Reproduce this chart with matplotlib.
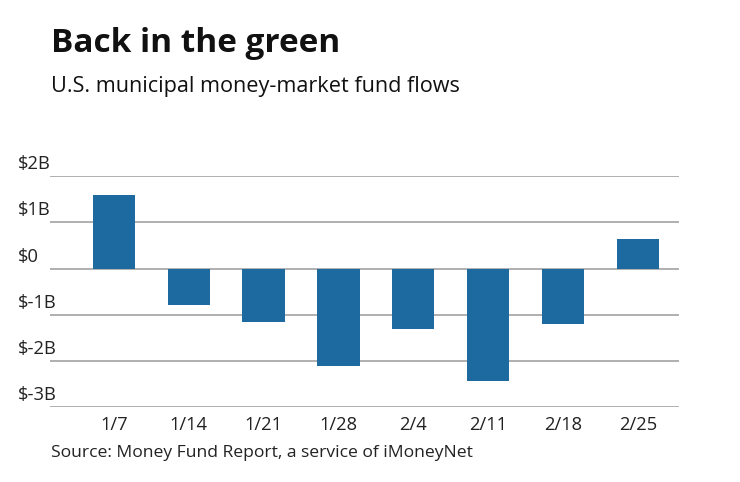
import matplotlib
matplotlib.use("Agg")
import matplotlib.pyplot as plt
import matplotlib.transforms as mtransforms

weeks = ["1/7", "1/14", "1/21", "1/28", "2/4", "2/11", "2/18", "2/25"]
flows = [1.59, -0.78, -1.16, -2.10, -1.31, -2.44, -1.19, 0.63]
yticks = [2, 1, 0, -1, -2, -3]
ytick_labels = ["$2B", "$1B", "$0", "$-1B", "$-2B", "$-3B"]

plt.rcParams['font.family'] = ['Open Sans', 'DejaVu Sans']

W, H = 740, 482
fig = plt.figure(figsize=(W / 100, H / 100), dpi=100)
ax = fig.add_axes([50 / W, 1 - 407.3 / H, 629 / W, (407.3 - 176) / H])

x = list(range(len(weeks)))
ax.bar(x, flows, width=0.565, color="#1c6aa0", zorder=3)

ax.set_ylim(-3, 2)
ax.set_xlim(-0.853, 7.55)
for v in yticks:
    ax.axhline(v, color="#9a9a9a", lw=1.1, zorder=1)

for s in ax.spines.values():
    s.set_visible(False)
ax.set_yticks([])
ax.set_xticks(x)
ax.set_xticklabels(weeks, fontsize=13.2, color="#222222")
ax.tick_params(axis="x", length=0, pad=6)

trans = mtransforms.blended_transform_factory(fig.transFigure, ax.transData)
trans = mtransforms.offset_copy(trans, fig=fig, x=0, y=3, units="dots")
for v, lab in zip(yticks, ytick_labels):
    ax.text(18 / W, v, lab, transform=trans, ha="left", va="bottom",
            fontsize=13.2, color="#222222")

fig.text(51 / W, 1 - 52 / H, "Back in the green", fontsize=24, fontweight="bold",
         color="#111111", ha="left", va="baseline")
fig.text(51 / W, 1 - 92 / H, "U.S. municipal money-market fund flows", fontsize=15.6,
         color="#111111", ha="left", va="baseline")
fig.text(51 / W, 1 - 457 / H, "Source: Money Fund Report, a service of iMoneyNet",
         fontsize=12.6, color="#222222", ha="left", va="baseline")

fig.savefig("out.png", dpi=100)
